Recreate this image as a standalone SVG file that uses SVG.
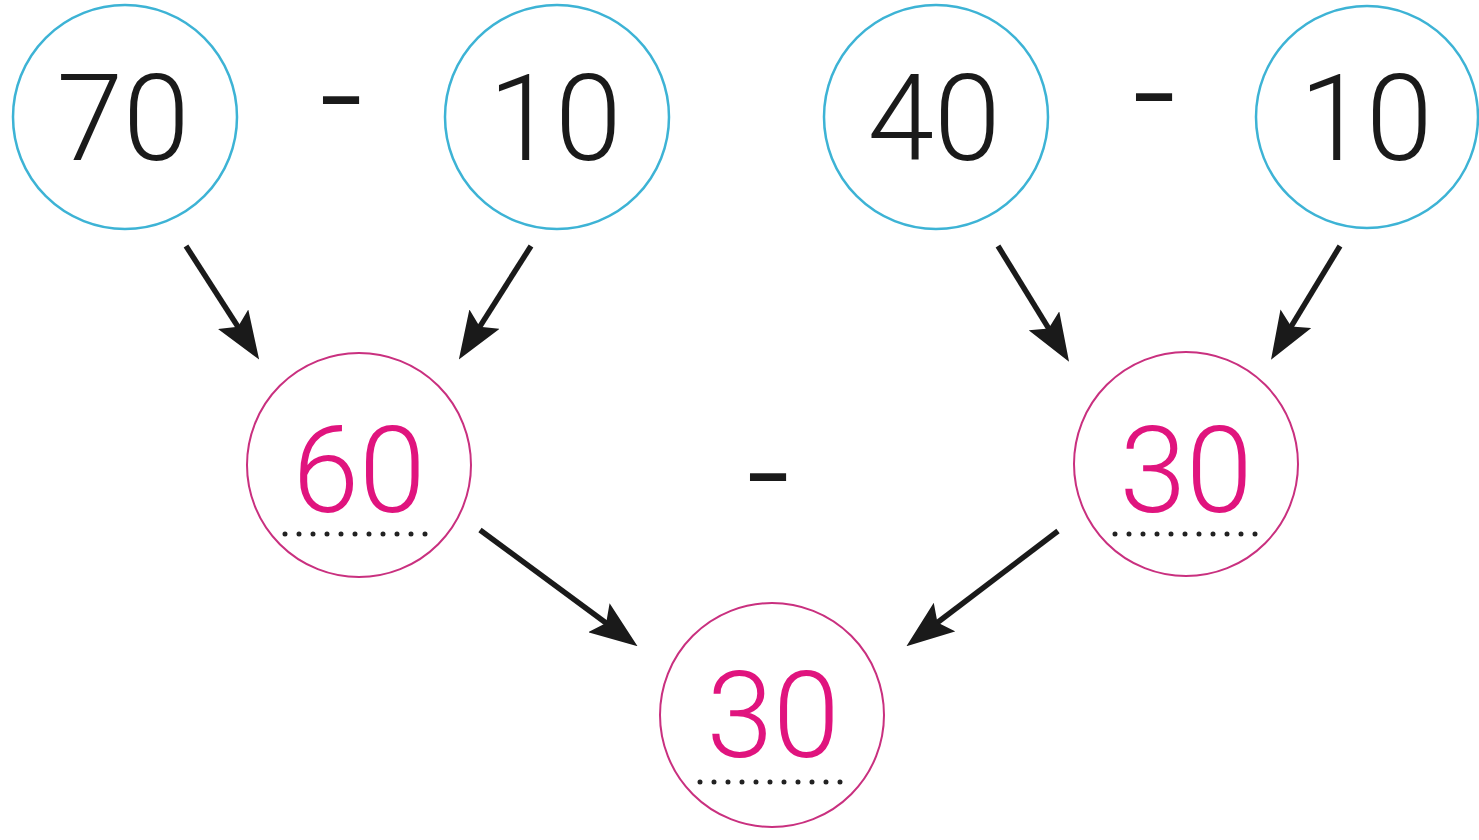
<svg xmlns="http://www.w3.org/2000/svg" width="1479" height="840" viewBox="0 0 1479 840">
<style>
.top{fill:#fff;stroke:#3db3d5;stroke-width:2.5}
.mid{fill:#fff;stroke:#c9307f;stroke-width:2}
.num{font-family:Roboto,Lato,"Liberation Sans",sans-serif;font-weight:300;font-size:120px;text-anchor:middle}
.blk{fill:#1a1a1a}
.pnk{fill:#e0147e}
.op{font-family:"Liberation Sans",sans-serif;font-weight:bold;font-size:72px;fill:#1a1a1a;text-anchor:middle}
.dots{stroke:#222;stroke-width:5;stroke-linecap:round;stroke-dasharray:0 14}
.arr{stroke:#1a1a1a;stroke-width:5.5;fill:none;marker-end:url(#ah)}
</style>
<defs>
<marker id="ah" viewBox="0 0 48 36" refX="16" refY="18" markerWidth="48" markerHeight="36" markerUnits="userSpaceOnUse" orient="auto">
<path d="M0,0 L48,18 L0,36 L9,18 z" fill="#1a1a1a"/>
</marker>
</defs>
<rect width="1479" height="840" fill="#fff"/>
<g id="connectors">
<line class="arr" x1="186" y1="246" x2="241.8" y2="332.7"/>
<line class="arr" x1="531" y1="246" x2="476" y2="332.6"/>
<line class="arr" x1="998" y1="246" x2="1052.3" y2="334.4"/>
<line class="arr" x1="1340" y1="246" x2="1287.6" y2="332.4"/>
<line class="arr" x1="480" y1="530" x2="611.8" y2="627.2"/>
<line class="arr" x1="1058" y1="531" x2="931.9" y2="626.8"/>
</g>
<g id="n70"><circle class="top" cx="125" cy="117" r="112"/><text class="num blk" x="123" y="160">70</text></g>
<g id="op1"><text class="op" x="341" y="124">−</text></g>
<g id="n10a"><circle class="top" cx="557" cy="117" r="112"/><text class="num blk" x="555" y="160">10</text></g>
<g id="n40"><circle class="top" cx="936" cy="117" r="112"/><text class="num blk" x="934" y="160">40</text></g>
<g id="op2"><text class="op" x="1154" y="121">−</text></g>
<g id="n10b"><circle class="top" cx="1367" cy="117" r="111"/><text class="num blk" x="1366" y="160">10</text></g>
<g id="n60"><circle class="mid" cx="359" cy="465" r="112"/><text class="num pnk" x="359" y="512">60</text><line class="dots" x1="285" y1="534" x2="429" y2="534"/></g>
<g id="op3"><text class="op" x="768" y="501">−</text></g>
<g id="n30r"><circle class="mid" cx="1186" cy="464" r="112"/><text class="num pnk" x="1186" y="512">30</text><line class="dots" x1="1115" y1="534" x2="1259" y2="534"/></g>
<g id="n30b"><circle class="mid" cx="772" cy="715" r="112"/><text class="num pnk" x="773" y="757">30</text><line class="dots" x1="700" y1="782" x2="844" y2="782"/></g>
</svg>
